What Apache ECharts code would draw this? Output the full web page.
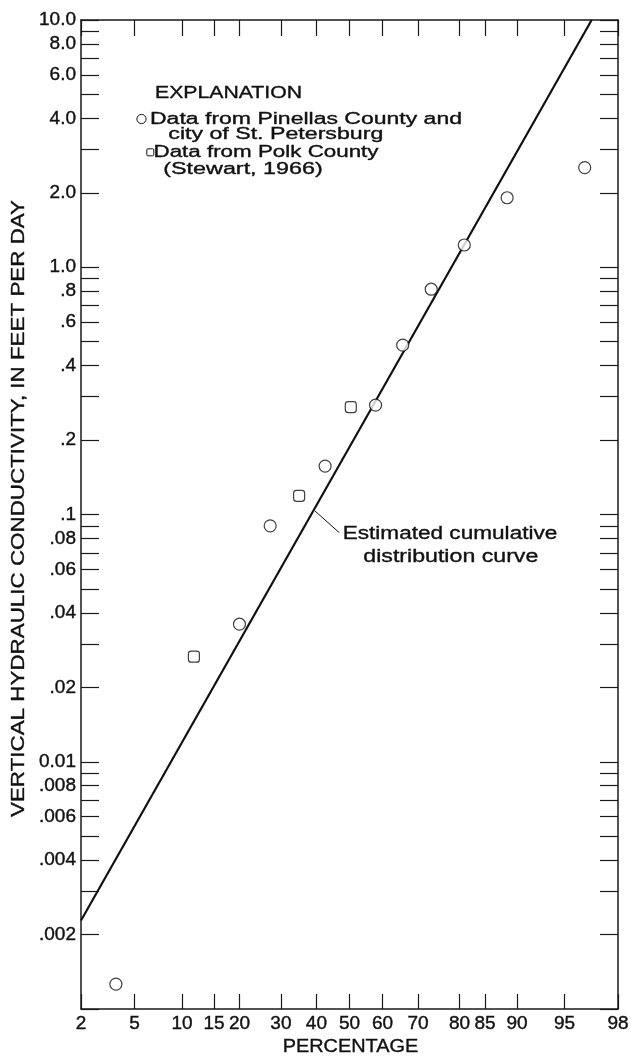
<!DOCTYPE html>
<html>
<head>
<meta charset="utf-8">
<script src="https://cdn.jsdelivr.net/npm/echarts@6/dist/echarts.min.js"></script>
<style>
html, body { margin: 0; padding: 0; background: #fff; }
#main { width: 631px; height: 1061px; }
</style>
</head>
<body>
<div id="main"></div>
<script>
// Data from Pinellas County and city of St. Petersburg (percentage, ft/d)
var pinellasPct = [3.7, 20, 27.2, 42.6, 57.9, 65.8, 73.4, 81, 88.6, 96.4];
var pinellasK = [0.00126, 0.036, 0.090, 0.157, 0.277, 0.484, 0.815, 1.23, 1.91, 2.53];
// Data from Polk County (Stewart, 1966)
var polkPct = [11.7, 35, 50.4];
var polkK = [0.0266, 0.119, 0.272];
// Estimated cumulative distribution curve (end points)
var curvePct = [2, 96.8];
var curveK = [0.00228, 10];

var xTicks = [2, 5, 10, 15, 20, 30, 40, 50, 60, 70, 80, 85, 90, 95, 98];
var yTicks = [0.001, 0.002, 0.003, 0.004, 0.005, 0.006, 0.007, 0.008, 0.009,
    0.01, 0.02, 0.03, 0.04, 0.05, 0.06, 0.07, 0.08, 0.09,
    0.1, 0.2, 0.3, 0.4, 0.5, 0.6, 0.7, 0.8, 0.9,
    1, 2, 3, 4, 5, 6, 7, 8, 9, 10];
var yLabelValues = [0.002, 0.004, 0.006, 0.008, 0.01, 0.02, 0.04, 0.06, 0.08,
    0.1, 0.2, 0.4, 0.6, 0.8, 1, 2, 4, 6, 8, 10];
var yLabelText = ['.002', '.004', '.006', '.008', '0.01', '.02', '.04', '.06', '.08',
    '.1', '.2', '.4', '.6', '.8', '1.0', '2.0', '4.0', '6.0', '8.0', '10.0'];

// inverse normal cdf (probability paper)
function probit(p) {
    var a = [-3.969683028665376e+01, 2.209460984245205e+02, -2.759285104469687e+02, 1.383577518672690e+02, -3.066479806614716e+01, 2.506628277459239e+00];
    var b = [-5.447609879822406e+01, 1.615858368580409e+02, -1.556989798598866e+02, 6.680131188771972e+01, -1.328068155288572e+01];
    var c = [-7.784894002430293e-03, -3.223964580411365e-01, -2.400758277161838e+00, -2.549732539343734e+00, 4.374664141464968e+00, 2.938163982698783e+00];
    var d = [7.784695709041462e-03, 3.224671290700398e-01, 2.445134137142996e+00, 3.754408661907416e+00];
    var pl = 0.02425, q, r;
    if (p < pl) {
        q = Math.sqrt(-2 * Math.log(p));
        return (((((c[0] * q + c[1]) * q + c[2]) * q + c[3]) * q + c[4]) * q + c[5]) / ((((d[0] * q + d[1]) * q + d[2]) * q + d[3]) * q + 1);
    }
    if (p <= 1 - pl) {
        q = p - 0.5; r = q * q;
        return (((((a[0] * r + a[1]) * r + a[2]) * r + a[3]) * r + a[4]) * r + a[5]) * q / (((((b[0] * r + b[1]) * r + b[2]) * r + b[3]) * r + b[4]) * r + 1);
    }
    q = Math.sqrt(-2 * Math.log(1 - p));
    return -(((((c[0] * q + c[1]) * q + c[2]) * q + c[3]) * q + c[4]) * q + c[5]) / ((((d[0] * q + d[1]) * q + d[2]) * q + d[3]) * q + 1);
}
function px(pct) { return probit(pct / 100); }
function ly(v) { return Math.log10(v); }
function pairs(xs, ys) {
    return xs.map(function (x, i) { return [px(x), ly(ys[i])]; });
}

var xTickZ = xTicks.map(px);
var yTickL = yTicks.map(ly);
var yLabelL = yLabelValues.map(ly);

function xFormatter(v) {
    for (var i = 0; i < xTickZ.length; i++) {
        if (Math.abs(xTickZ[i] - v) < 1e-6) return String(xTicks[i]);
    }
    return '';
}
function yFormatter(v) {
    for (var i = 0; i < yLabelL.length; i++) {
        if (Math.abs(yLabelL[i] - v) < 1e-6) return yLabelText[i];
    }
    return '';
}

// stretch text horizontally to the width it has in the figure
var measureCtx = document.createElement('canvas').getContext('2d');
function fit(text, font, width) {
    measureCtx.font = font;
    return width / measureCtx.measureText(text).width;
}
function label(text, x, y, size, width, align, rot) {
    var font = size + 'px "Liberation Sans", Arial, sans-serif';
    return {
        type: 'text', x: x, y: y, rotation: rot || 0,
        scaleX: fit(text, font, width), z: 100,
        style: {
            text: text, font: font, fill: '#111',
            stroke: '#111', lineWidth: 0.35,
            align: align, textAlign: align,
            verticalAlign: 'middle', textVerticalAlign: 'middle'
        }
    };
}

var ink = '#1a1a1a';
var fontFam = '"Liberation Sans", Arial, sans-serif';

var dom = document.getElementById('main');
var myChart = echarts.init(dom, null, { renderer: 'canvas' });

var option = {
    backgroundColor: '#fff',
    animation: false,
    textStyle: { fontFamily: fontFam },
    grid: { left: 81, right: 13, top: 20, bottom: 52, containLabel: false, outerBoundsMode: 'none' },
    xAxis: [{
        type: 'value',
        position: 'bottom',
        min: px(2),
        max: px(98),
        axisLine: { onZero: false, lineStyle: { color: ink, width: 1.5 } },
        axisTick: { inside: true, length: 15, customValues: xTickZ, lineStyle: { color: ink, width: 1.2 } },
        axisLabel: {
            customValues: xTickZ, formatter: xFormatter, margin: 5, fontSize: 19,
            color: '#111', fontFamily: fontFam, textBorderColor: '#111', textBorderWidth: 0.4
        },
        splitLine: { show: false }
    }, {
        type: 'value',
        position: 'top',
        min: px(2),
        max: px(98),
        axisLine: { onZero: false, lineStyle: { color: ink, width: 1.5 } },
        axisTick: { inside: true, length: 16, customValues: xTickZ, lineStyle: { color: ink, width: 1.2 } },
        axisLabel: { show: false },
        splitLine: { show: false }
    }],
    yAxis: [{
        type: 'value',
        position: 'left',
        min: -3,
        max: 1,
        axisLine: { onZero: false, lineStyle: { color: ink, width: 1.5 } },
        axisTick: { inside: true, length: 18, customValues: yTickL, lineStyle: { color: ink, width: 1.2 } },
        axisLabel: {
            customValues: yLabelL, formatter: yFormatter, margin: 5, fontSize: 19,
            color: '#111', fontFamily: fontFam, textBorderColor: '#111', textBorderWidth: 0.4
        },
        splitLine: { show: false }
    }, {
        type: 'value',
        position: 'right',
        min: -3,
        max: 1,
        axisLine: { onZero: false, lineStyle: { color: ink, width: 1.5 } },
        axisTick: { inside: true, length: 18, customValues: yTickL, lineStyle: { color: ink, width: 1.2 } },
        axisLabel: { show: false },
        splitLine: { show: false }
    }],
    series: [{
        name: 'Estimated cumulative distribution curve',
        type: 'line',
        data: pairs(curvePct, curveK),
        symbol: 'none',
        lineStyle: { color: '#111', width: 2.2 },
        z: 2
    }, {
        name: 'Data from Pinellas County and city of St. Petersburg',
        type: 'scatter',
        data: pairs(pinellasPct, pinellasK),
        symbol: 'circle',
        symbolSize: 12,
        itemStyle: { color: '#fff', borderColor: '#111', borderWidth: 1.2 },
        z: 3
    }, {
        name: 'Data from Polk County (Stewart, 1966)',
        type: 'scatter',
        data: pairs(polkPct, polkK),
        symbol: 'roundRect',
        symbolSize: 11,
        itemStyle: { color: '#fff', borderColor: '#111', borderWidth: 1.2 },
        z: 3
    }],
    graphic: [
        label('EXPLANATION', 155, 93.2, 16, 147, 'left'),
        { type: 'circle', shape: { cx: 141.5, cy: 119, r: 4.6 }, style: { fill: 'none', stroke: '#111', lineWidth: 1 } },
        label('Data from Pinellas County and', 150, 119.2, 16, 312, 'left'),
        label('city of St. Petersburg', 168.3, 135, 16, 215, 'left'),
        { type: 'rect', shape: { x: 146.8, y: 148.8, width: 7, height: 7, r: 1 }, style: { fill: 'none', stroke: '#111', lineWidth: 1 } },
        label('Data from Polk County', 153.5, 152.5, 16, 225, 'left'),
        label('(Stewart, 1966)', 163.3, 169.5, 16, 159.4, 'left'),
        label('Estimated cumulative', 450, 534.4, 17.5, 214.7, 'center'),
        label('distribution curve', 450.8, 557, 17.5, 175, 'center'),
        { type: 'line', shape: { x1: 315, y1: 511, x2: 339.3, y2: 532.7 }, style: { stroke: '#111', lineWidth: 1 } },
        label('PERCENTAGE', 350.5, 1047, 18, 135.7, 'center'),
        label('VERTICAL HYDRAULIC CONDUCTIVITY, IN FEET PER DAY', 18.5, 508.5, 18.5, 617, 'center', Math.PI / 2)
    ]
};
if (option && typeof option === 'object') {
    myChart.setOption(option, true);
}
</script>
</body>
</html>
